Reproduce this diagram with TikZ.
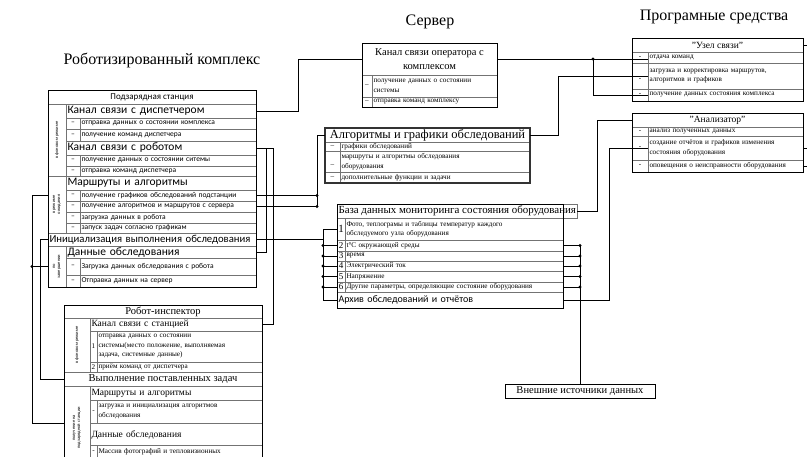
\documentclass[tikz,border=0pt]{standalone}
\usepackage{fontspec}
\setmainfont{Liberation Serif}
\newfontfamily\calfont{Carlito}
\usetikzlibrary{calc}

\begin{document}
\begin{tikzpicture}[
    x=1pt, y=-1pt,
    cell/.style={draw=black!55, line width=0.5pt, anchor=north west, inner sep=1.5pt, outer sep=0pt},
    frame/.style={draw=black, line width=0.9pt},
    wire/.style={draw=black, line width=0.7pt},
    title/.style={font=\fontsize{16}{18}\selectfont},
    shead/.style={font=\calfont\fontsize{9}{10}\selectfont},
    ssub/.style={font=\calfont\fontsize{11.5}{12}\selectfont, align=left},
    sitem/.style={font=\calfont\fontsize{7.5}{8}\selectfont, align=left},
    side/.style={font=\calfont\fontsize{4.5}{5}\selectfont, align=center, rotate=90, anchor=center},
    thead/.style={font=\fontsize{10.5}{14}\selectfont, align=center},
    tsub/.style={font=\fontsize{9.5}{11}\selectfont, align=left},
    titem/.style={font=\fontsize{7.2}{9.5}\selectfont, align=left},
    tnum/.style={font=\fontsize{9}{10}\selectfont}
  ]
  \useasboundingbox (0,0) rectangle (807,456);
  \clip (0,0) rectangle (807,456);

  % titles
  \node[title] (tComplex) at (162,60) {Роботизированный комплекс};
  \node[title] (tServer) at (430,22) {Сервер};
  \node[title] (tSoft) at (714,17) {Програмные средства};

  % charging station
  \node[cell, shead, minimum width=208pt, minimum height=14pt] (sHdr) at (48,90) {Подзарядная станция};
  \node[cell, side, minimum width=72pt, minimum height=18pt] (sSide1) at (57,140) {в фоновом режиме};
  \node[cell, ssub, minimum width=190pt, minimum height=14pt, text width=187pt] (sDisp) at (66,104) {Канал связи с диспетчером};
  \node[cell, sitem, minimum width=14pt, minimum height=11pt] (sD1) at (66,118) {–};
  \node[cell, sitem, minimum width=176pt, minimum height=11pt, text width=173pt] (sDisp1) at (80,118) {отправка данных о состоянии комплекса};
  \node[cell, sitem, minimum width=14pt, minimum height=12pt] (sD2) at (66,129) {–};
  \node[cell, sitem, minimum width=176pt, minimum height=12pt, text width=173pt] (sDisp2) at (80,129) {получение команд диспетчера};
  \node[cell, ssub, minimum width=190pt, minimum height=14pt, text width=187pt] (sRob) at (66,141) {Канал связи с роботом};
  \node[cell, sitem, minimum width=14pt, minimum height=11pt] (sD3) at (66,155) {–};
  \node[cell, sitem, minimum width=176pt, minimum height=11pt, text width=173pt] (sRob1) at (80,155) {получение данных о состоянии ситемы};
  \node[cell, sitem, minimum width=14pt, minimum height=10pt] (sD4) at (66,166) {–};
  \node[cell, sitem, minimum width=176pt, minimum height=10pt, text width=173pt] (sRob2) at (80,166) {отправка команд диспетчера};
  \node[cell, side, minimum width=57pt, minimum height=18pt] (sSide2) at (57,204.5) {в режиме\\ожидания};
  \node[cell, ssub, minimum width=190pt, minimum height=14pt, text width=187pt] (sRoute) at (66,176) {Маршруты и алгоритмы};
  \node[cell, sitem, minimum width=14pt, minimum height=11pt] (sD5) at (66,190) {–};
  \node[cell, sitem, minimum width=176pt, minimum height=11pt, text width=173pt] (sGraf) at (80,190) {получение графиков обследований подстанции};
  \node[cell, sitem, minimum width=14pt, minimum height=11pt] (sD6) at (66,201) {–};
  \node[cell, sitem, minimum width=176pt, minimum height=11pt, text width=173pt] (sAlg) at (80,201) {получение алгоритмов и маршрутов с сервера};
  \node[cell, sitem, minimum width=14pt, minimum height=11pt] (sD7) at (66,212) {–};
  \node[cell, sitem, minimum width=176pt, minimum height=11pt, text width=173pt] (sLoad) at (80,212) {загрузка данных в робота};
  \node[cell, sitem, minimum width=14pt, minimum height=10pt] (sD8) at (66,223) {–};
  \node[cell, sitem, minimum width=176pt, minimum height=10pt, text width=173pt] (sRun) at (80,223) {запуск задач согласно графикам};
  \node[cell, ssub, font=\calfont\fontsize{10.7}{12}\selectfont, minimum width=208pt, minimum height=13pt, text width=205pt] (sInit) at (48,233) {Инициализация выполнения обследования};
  \node[cell, side, minimum width=41pt, minimum height=18pt] (sSide3) at (57,266.5) {по\\завершении};
  \node[cell, ssub, minimum width=190pt, minimum height=12pt, text width=187pt] (sData) at (66,246) {Данные обследования};
  \node[cell, sitem, minimum width=14pt, minimum height=17pt] (sD9) at (66,258) {–};
  \node[cell, sitem, minimum width=176pt, minimum height=17pt, text width=173pt] (sData1) at (80,258) {Загрузка данных обследования с робота};
  \node[cell, sitem, minimum width=14pt, minimum height=12pt] (sD10) at (66,275) {–};
  \node[cell, sitem, minimum width=176pt, minimum height=12pt, text width=173pt] (sData2) at (80,275) {Отправка данных на сервер};
  \draw[frame] (sHdr.north west) rectangle (sData2.south east);

  % robot
  \node[cell, thead, minimum width=198pt, minimum height=13pt] (rHdr) at (64,305) {Робот-инспектор};
  \node[cell, side, minimum width=54pt, minimum height=26pt] (rSide1) at (77,345) {в фоновом режиме};
  \node[cell, tsub, minimum width=172pt, minimum height=13pt, text width=169pt] (rChan) at (90,318) {Канал связи с станцией};
  \node[cell, titem, minimum width=7pt, minimum height=31pt, inner sep=0.5pt] (rN1) at (90,331) {1};
  \node[cell, titem, minimum width=165pt, minimum height=31pt, text width=162pt] (rSend) at (97,331) {отправка данных о состоянии\\системы(место положение, выполняемая\\задача, системные данные)};
  \node[cell, titem, minimum width=7pt, minimum height=10pt, inner sep=0.5pt] (rN2) at (90,362) {2};
  \node[cell, titem, minimum width=165pt, minimum height=10pt, text width=162pt] (rRecv) at (97,362) {приём команд от диспетчера};
  \node[cell, thead, minimum width=198pt, minimum height=14pt] (rExec) at (64,372) {Выполнение поставленных задач};
  \node[cell, side, minimum width=84pt, minimum height=26pt] (rSide2) at (77,428) {получение на\\подзарядной станции};
  \node[cell, tsub, minimum width=172pt, minimum height=14pt, text width=169pt] (rRoute) at (90,386) {Маршруты и алгоритмы};
  \node[cell, titem, minimum width=7pt, minimum height=23pt, inner sep=0.5pt] (rN3) at (90,400) {-};
  \node[cell, titem, minimum width=165pt, minimum height=23pt, text width=162pt] (rRoute1) at (97,400) {загрузка и инициализация алгоритмов\\обследования};
  \node[cell, tsub, minimum width=172pt, minimum height=22pt, text width=169pt] (rData) at (90,423) {~\\[-1pt]Данные обследования};
  \node[cell, titem, minimum width=7pt, minimum height=22pt, inner sep=0.5pt] (rN4) at (90,445) {-\\~};
  \node[cell, titem, minimum width=165pt, minimum height=22pt, text width=162pt] (rData1) at (97,445) {Массив фотографий и тепловизионных\\~};
  \draw[frame] (rHdr.north west) rectangle (rData1.south east);

  % server
  \node[cell, thead, minimum width=135pt, minimum height=32pt] (vHdr) at (362,43) {Канал связи оператора с\\комплексом};
  \node[cell, titem, minimum width=10pt, minimum height=22pt] (vD1) at (362,75) {–};
  \node[cell, titem, minimum width=125pt, minimum height=22pt, text width=122pt] (vGet) at (372,75) {получение данных о состоянии\\системы};
  \node[cell, titem, minimum width=10pt, minimum height=10pt] (vD2) at (362,97) {–};
  \node[cell, titem, minimum width=125pt, minimum height=10pt, text width=122pt] (vSend) at (372,97) {отправка команд комплексу};
  \draw[frame] (vHdr.north west) rectangle (vSend.south east);

  % algorithms
  \node[cell, font=\fontsize{12.5}{14}\selectfont, minimum width=205pt, minimum height=14pt] (aHdr) at (325,128) {Алгоритмы и графики обследований};
  \node[cell, titem, minimum width=15pt, minimum height=9pt] (aD1) at (325,142) {–};
  \node[cell, titem, minimum width=190pt, minimum height=9pt, text width=187pt] (aGraf) at (340,142) {графики обследований};
  \node[cell, titem, minimum width=15pt, minimum height=21pt] (aD2) at (325,151) {~\\–};
  \node[cell, titem, minimum width=190pt, minimum height=21pt, text width=187pt] (aRoute) at (340,151) {маршруты и алгоритмы обследования\\оборудования};
  \node[cell, titem, minimum width=15pt, minimum height=11pt] (aD3) at (325,172) {–};
  \node[cell, titem, minimum width=190pt, minimum height=11pt, text width=187pt] (aExtra) at (340,172) {дополнительные функции и задачи};
  \draw[frame, line width=1.4pt, draw=black!80] (aHdr.north west) rectangle (aExtra.south east);

  % database
  \node[cell, thead, font=\fontsize{10.9}{13}\selectfont, minimum width=226pt, minimum height=14pt] (dHdr) at (337,204) {База данных мониторинга состояния оборудования};
  \node[cell, font=\fontsize{11}{12}\selectfont, minimum width=8pt, minimum height=22pt, inner sep=0.5pt] (dN1) at (337,218) {1};
  \node[cell, titem, minimum width=218pt, minimum height=22pt, text width=215pt] (dPhoto) at (345,218) {Фото, теплограмы и таблицы температур каждого\\обследуемого узла оборудования};
  \node[cell, tnum, minimum width=8pt, minimum height=11pt, inner sep=0.5pt] (dN2) at (337,240) {2};
  \node[cell, titem, minimum width=218pt, minimum height=11pt, text width=215pt] (dTemp) at (345,240) {t°С окружающей среды};
  \node[cell, tnum, minimum width=8pt, minimum height=10pt, inner sep=0.5pt] (dN3) at (337,251) {3};
  \node[cell, titem, minimum width=218pt, minimum height=10pt, text width=215pt] (dTime) at (345,251) {время};
  \node[cell, tnum, minimum width=8pt, minimum height=10pt, inner sep=0.5pt] (dN4) at (337,261) {4};
  \node[cell, titem, minimum width=218pt, minimum height=10pt, text width=215pt] (dCur) at (345,261) {Электрический ток};
  \node[cell, tnum, minimum width=8pt, minimum height=11pt, inner sep=0.5pt] (dN5) at (337,271) {5};
  \node[cell, titem, minimum width=218pt, minimum height=11pt, text width=215pt] (dVolt) at (345,271) {Напряжение};
  \node[cell, tnum, minimum width=8pt, minimum height=10pt, inner sep=0.5pt] (dN6) at (337,282) {6};
  \node[cell, titem, minimum width=218pt, minimum height=10pt, text width=215pt] (dOther) at (345,282) {Другие параметры, определяющие состояние оборудования};
  \node[cell, font=\calfont\fontsize{10}{11}\selectfont, align=left, minimum width=226pt, minimum height=16pt, text width=223pt] (dArch) at (337,292) {Архив обследований и отчётов};
  \draw[frame] (dHdr.north west) rectangle (dArch.south east);

  % communication node
  \node[cell, thead, font=\fontsize{9.5}{11}\selectfont, minimum width=171pt, minimum height=14pt] (uHdr) at (632,38) {"Узел связи"};
  \node[cell, titem, minimum width=16pt, minimum height=11pt] (uD1) at (632,52) {-};
  \node[cell, titem, minimum width=155pt, minimum height=11pt, text width=152pt] (uCmd) at (648,52) {отдача команд};
  \node[cell, titem, minimum width=16pt, minimum height=26pt] (uD2) at (632,63) {~\\-};
  \node[cell, titem, minimum width=155pt, minimum height=26pt, text width=152pt] (uLoad) at (648,63) {загрузка и корректировка маршрутов,\\алгоритмов и графиков};
  \node[cell, titem, minimum width=16pt, minimum height=12pt] (uD3) at (632,89) {-};
  \node[cell, titem, minimum width=155pt, minimum height=12pt, text width=152pt] (uState) at (648,89) {получение данных состояния комплекса};
  \draw[frame] (uHdr.north west) rectangle (uState.south east);

  % analyser
  \node[cell, thead, font=\fontsize{9.5}{11}\selectfont, minimum width=171pt, minimum height=14pt] (zHdr) at (632,113) {"Анализатор"};
  \node[cell, titem, minimum width=16pt, minimum height=9pt] (zD1) at (632,127) {-};
  \node[cell, titem, minimum width=155pt, minimum height=9pt, text width=152pt] (zAn) at (648,127) {анализ полученных данных};
  \node[cell, titem, minimum width=16pt, minimum height=24pt] (zD2) at (632,136) {-};
  \node[cell, titem, minimum width=155pt, minimum height=24pt, text width=152pt] (zRep) at (648,136) {создание отчётов и графиков изменения\\состояния оборудования};
  \node[cell, titem, minimum width=16pt, minimum height=12pt] (zD3) at (632,160) {-};
  \node[cell, titem, minimum width=155pt, minimum height=12pt, text width=152pt] (zWarn) at (648,160) {оповещения о неисправности оборудования};
  \draw[frame] (zHdr.north west) rectangle (zWarn.south east);

  % external sources
  \node[cell, frame, font=\fontsize{10.5}{12}\selectfont, minimum width=150pt, minimum height=14pt] (ext) at (505,384) {Внешние источники данных};

  % links
  \coordinate (aBus) at (317,0);
  \coordinate (dBus) at (323,0);
  \coordinate (uBus) at (593,0);
  \coordinate (rBus) at (266,0);
  \draw[wire] (sDisp.east) -- ++(42,0) |- (vHdr.west);
  \draw[wire] (sRob.east) -- ++(17,0) |- (rChan.east);
  \draw[wire] (rBus |- sRob.east) |- (sData.east);
  \draw[wire] (sAlg.east) -| (aBus |- aHdr.west) -- (aHdr.west);
  \draw[wire] (sGraf.east) -- (aBus |- sGraf.east);
  \fill (aBus |- sGraf.east) circle (1.6pt) (aBus |- sAlg.east) circle (1.6pt);
  \draw[wire] (sInit.east) -- (dBus |- sInit.east);
  \draw[wire] (dN1.west) -| (dBus |- dArch.west) -- (dArch.west);
  \draw[wire] (dBus |- dN2.west) -- (dN2.west) (dBus |- dN3.west) -- (dN3.west)
    (dBus |- dN4.west) -- (dN4.west) (dBus |- dN5.west) -- (dN5.west) (dBus |- dN6.west) -- (dN6.west);
  \fill (dBus |- dN2.west) circle (1.6pt) (dBus |- dN3.west) circle (1.6pt) (dBus |- dN4.west) circle (1.6pt)
    (dBus |- dN5.west) circle (1.6pt) (dBus |- dN6.west) circle (1.6pt);
  \draw[wire] (sHdr.west |- sInit.west) -- ++(-8,0) |- (rExec.west);
  \draw[wire] (sHdr.west |- sGraf.east) -- ++(-16,0) |- (rHdr.west |- rData.north);
  \draw[wire] (sHdr.west |- sSide3.center) -- ++(-16,0);
  \fill ($(sHdr.west |- sSide3.center)+(-16,0)$) circle (1.6pt);

  \draw[wire] (vHdr.east) -- (vHdr.east -| uCmd.west);
  \draw[wire] (uBus |- vHdr.east) |- (uState.west);
  \fill (uBus |- vHdr.east) circle (1.6pt);
  \draw[wire] (aHdr.east) -- ++(28,0) |- (uLoad.west);
  \draw[wire] (dHdr.east) -- ++(20,0) |- (zHdr.west);
  \draw[wire] (dArch.east) -- ++(46,0) |- (zRep.west);
  \draw[wire] (dTemp.east -| ext.north) -- (ext.north);
  \draw[wire] (dTemp.east) -- (dTemp.east -| ext.north) (dTime.east) -- (dTime.east -| ext.north)
    (dCur.east) -- (dCur.east -| ext.north) (dVolt.east) -- (dVolt.east -| ext.north) (dOther.east) -- (dOther.east -| ext.north);
  \fill (dTemp.east -| ext.north) circle (1.6pt) (dTime.east -| ext.north) circle (1.6pt) (dCur.east -| ext.north) circle (1.6pt)
    (dVolt.east -| ext.north) circle (1.6pt) (dOther.east -| ext.north) circle (1.6pt);
  \draw[wire] (uHdr.east) -- ++(6,0);
  \draw[wire] (zRep.east) -- ++(6,0);
  \draw[wire] (zWarn.east) -- ++(6,0);
\end{tikzpicture}
\end{document}
